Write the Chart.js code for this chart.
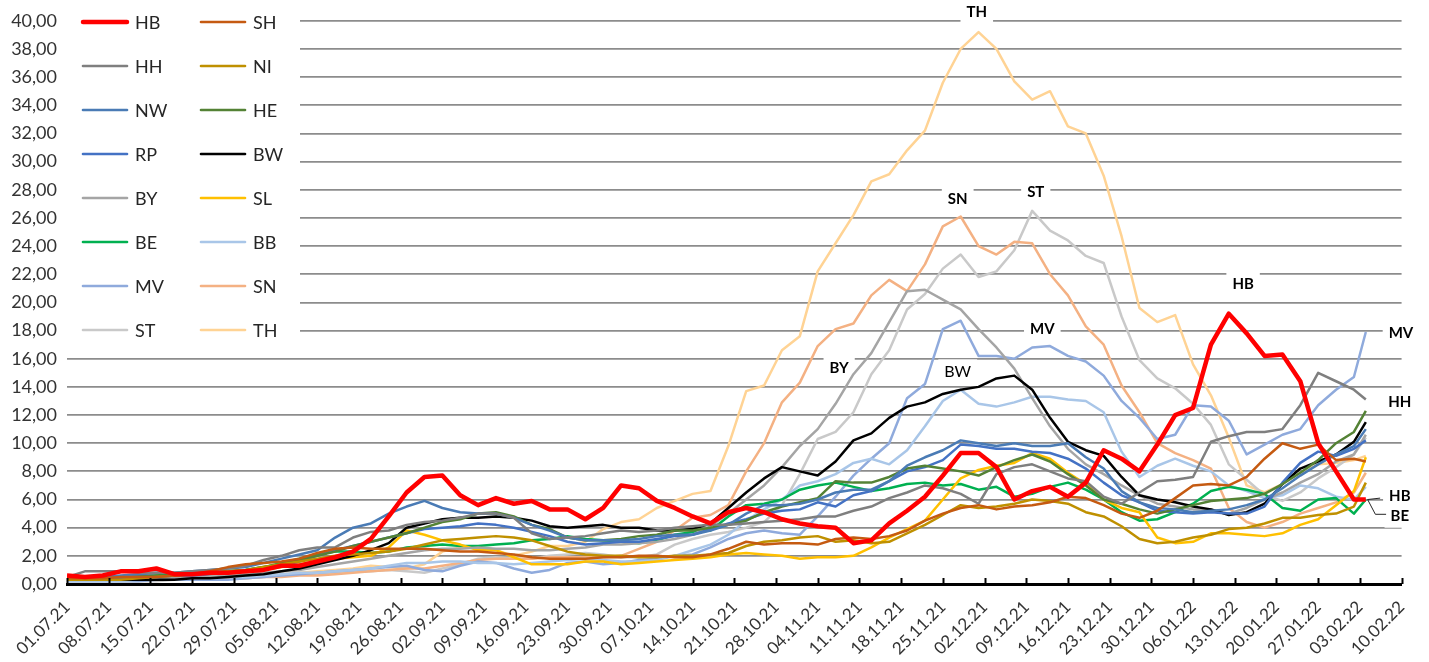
<!DOCTYPE html>
<html>
<head>
<meta charset="utf-8">
<script src="https://cdn.jsdelivr.net/npm/chart.js"></script>
<style>
  html, body { margin: 0; padding: 0; background: #fff; }
  canvas { display: block; }
</style>
</head>
<body>
<canvas id="chart" width="1429" height="662"></canvas>
<script>
// tick labels (one per week)
const tickDates = ['01.07.21', '08.07.21', '15.07.21', '22.07.21', '29.07.21', '05.08.21', '12.08.21', '19.08.21',
  '26.08.21', '02.09.21', '09.09.21', '16.09.21', '23.09.21', '30.09.21', '07.10.21', '14.10.21', '21.10.21',
  '28.10.21', '04.11.21', '11.11.21', '18.11.21', '25.11.21', '02.12.21', '09.12.21', '16.12.21', '23.12.21',
  '30.12.21', '06.01.22', '13.01.22', '20.01.22', '27.01.22', '03.02.22', '10.02.22'];

// days since 01.07.21 of the sampled values
const days = [0, 3, 6, 9, 12, 15, 18, 21, 24, 27, 30, 33, 36, 39, 42, 45, 48, 51, 54, 57, 60, 63, 66, 69, 72, 75,
  78, 81, 84, 87, 90, 93, 96, 99, 102, 105, 108, 111, 114, 117, 120, 123, 126, 129, 132, 135, 138, 141, 144, 147,
  150, 153, 156, 159, 162, 165, 168, 171, 174, 177, 180, 183, 186, 189, 192, 195, 198, 201, 204, 207, 210, 213,
  216, 218];

const HB = [0.6, 0.5, 0.6, 0.9, 0.9, 1.1, 0.7, 0.7, 0.8, 0.8,
  0.9, 1.0, 1.3, 1.3, 1.6, 1.9, 2.3, 3.2, 4.8, 6.5,
  7.6, 7.7, 6.3, 5.6, 6.1, 5.7, 5.9, 5.3, 5.3, 4.6,
  5.4, 7.0, 6.8, 5.9, 5.4, 4.8, 4.3, 5.1, 5.4, 5.1,
  4.6, 4.3, 4.1, 4.0, 2.9, 3.1, 4.3, 5.2, 6.2, 7.7,
  9.3, 9.3, 8.3, 6.0, 6.6, 6.9, 6.2, 7.2, 9.5, 8.9,
  8.0, 9.9, 12.0, 12.5, 17.0, 19.2, 17.8, 16.2, 16.3, 14.4,
  10.0, 8.0, 6.0, 6.0];
const SH = [0.4, 0.4, 0.4, 0.5, 0.5, 0.5, 0.6, 0.7, 0.9, 1.2,
  1.4, 1.5, 1.6, 1.8, 2.2, 2.5, 2.6, 2.5, 2.5, 2.5,
  2.5, 2.4, 2.3, 2.3, 2.2, 2.1, 1.9, 1.8, 1.8, 1.8,
  1.9, 1.9, 2.0, 2.0, 1.9, 1.9, 2.1, 2.5, 3.0, 2.8,
  2.9, 2.9, 2.8, 3.2, 3.3, 3.2, 3.4, 3.8, 4.5, 5.0,
  5.4, 5.6, 5.3, 5.5, 5.6, 5.8, 6.2, 6.1, 5.6, 5.0,
  4.7, 5.2, 6.1, 7.0, 7.1, 7.0, 7.6, 8.9, 10.0, 9.6,
  9.9, 8.8, 8.9, 8.7];
const HH = [0.5, 0.9, 0.9, 0.9, 0.8, 0.8, 0.8, 0.9, 1.0, 1.1,
  1.3, 1.7, 2.0, 2.4, 2.6, 2.6, 3.3, 3.7, 3.8, 4.2,
  4.4, 4.5, 4.7, 5.0, 5.0, 4.7, 3.6, 3.2, 3.3, 3.4,
  3.6, 3.8, 3.7, 3.8, 4.0, 4.1, 4.2, 4.2, 4.3, 4.4,
  4.5, 4.6, 4.8, 4.8, 5.2, 5.5, 6.1, 6.5, 7.0, 6.8,
  6.4, 5.7, 7.8, 8.3, 8.5, 8.0, 7.5, 7.3, 6.2, 5.7,
  6.5, 7.3, 7.4, 7.6, 10.1, 10.5, 10.8, 10.8, 11.0, 12.7,
  15.0, 14.4, 13.8, 13.1];
const NI = [0.3, 0.3, 0.3, 0.3, 0.4, 0.5, 0.6, 0.7, 0.8, 0.9,
  1.0, 1.2, 1.4, 1.6, 1.8, 2.0, 2.1, 2.2, 2.3, 2.5,
  2.8, 3.1, 3.2, 3.3, 3.4, 3.3, 3.1, 2.7, 2.3, 2.1,
  2.0, 2.0, 1.9, 1.9, 2.0, 2.0, 2.1, 2.2, 2.7, 3.0,
  3.1, 3.3, 3.4, 3.0, 3.1, 2.9, 3.0, 3.6, 4.2, 4.9,
  5.6, 5.4, 5.5, 5.7, 6.0, 5.9, 5.7, 5.1, 4.8, 4.1,
  3.2, 2.9, 3.0, 3.3, 3.5, 3.9, 4.0, 4.3, 4.7, 4.7,
  4.9, 5.0, 5.5, 7.2];
const NW = [0.4, 0.4, 0.5, 0.6, 0.7, 0.8, 0.8, 0.9, 1.0, 1.1,
  1.2, 1.5, 1.8, 2.1, 2.4, 3.3, 4.0, 4.3, 5.0, 5.5,
  5.9, 5.4, 5.1, 5.0, 5.0, 4.7, 4.2, 3.8, 3.3, 3.1,
  3.1, 3.1, 3.2, 3.4, 3.5, 3.5, 3.8, 4.2, 5.0, 5.6,
  5.6, 5.7, 6.0, 6.5, 6.7, 6.7, 7.3, 8.4, 9.0, 9.5,
  10.2, 10.0, 9.8, 10.0, 9.8, 9.8, 10.0, 9.0, 8.2, 6.6,
  5.8, 5.4, 5.3, 5.1, 5.2, 5.3, 5.6, 6.0, 6.8, 7.7,
  8.5, 9.2, 9.8, 11.0];
const HE = [0.5, 0.5, 0.5, 0.5, 0.6, 0.6, 0.6, 0.7, 0.8, 0.9,
  1.0, 1.2, 1.4, 1.7, 2.0, 2.3, 2.7, 3.0, 3.3, 3.6,
  4.0, 4.4, 4.6, 5.0, 5.1, 4.8, 4.2, 3.9, 3.3, 3.1,
  3.1, 3.2, 3.4, 3.5, 3.8, 3.8, 4.0, 4.2, 4.5, 5.1,
  5.5, 5.8, 6.1, 7.3, 7.2, 7.2, 7.6, 8.2, 8.4, 8.2,
  8.0, 7.7, 8.3, 8.8, 9.2, 8.7, 7.8, 7.0, 6.0, 5.7,
  5.3, 5.0, 5.3, 5.6, 5.9, 6.0, 6.1, 6.4, 7.1, 7.9,
  8.8, 10.0, 10.8, 12.3];
const RP = [0.3, 0.3, 0.4, 0.4, 0.5, 0.5, 0.6, 0.6, 0.7, 0.8,
  0.9, 1.1, 1.3, 1.6, 2.0, 2.4, 2.7, 3.0, 3.3, 3.6,
  3.9, 4.0, 4.1, 4.3, 4.2, 4.0, 3.7, 3.4, 3.0, 2.8,
  2.9, 3.0, 3.0, 3.2, 3.4, 3.5, 3.9, 4.3, 4.6, 5.0,
  5.2, 5.3, 5.8, 5.5, 6.3, 6.6, 7.3, 8.0, 8.3, 8.8,
  9.9, 9.8, 9.6, 9.6, 9.4, 9.3, 8.9, 8.2, 7.2, 6.3,
  5.8, 5.2, 5.1, 5.0, 5.1, 5.0, 5.0, 5.5, 7.2, 8.6,
  9.4, 9.1, 9.6, 10.2];
const BW = [0.3, 0.3, 0.3, 0.3, 0.3, 0.3, 0.3, 0.4, 0.4, 0.5,
  0.6, 0.7, 0.9, 1.1, 1.4, 1.7, 2.0, 2.4, 2.9, 4.0,
  4.3, 4.6, 4.7, 4.7, 4.8, 4.7, 4.5, 4.1, 4.0, 4.1,
  4.2, 4.0, 4.0, 3.8, 3.8, 3.9, 4.3, 5.4, 6.5, 7.5,
  8.3, 8.0, 7.7, 8.7, 10.2, 10.7, 11.8, 12.6, 12.9, 13.5,
  13.8, 14.0, 14.6, 14.8, 13.8, 11.8, 10.1, 9.5, 9.1, 7.6,
  6.3, 6.0, 5.8, 5.5, 5.3, 4.9, 5.1, 5.7, 7.1, 8.2,
  8.7, 9.2, 10.1, 11.5];
const BY = [0.3, 0.3, 0.3, 0.3, 0.3, 0.4, 0.4, 0.5, 0.5, 0.6,
  0.7, 0.8, 0.9, 1.0, 1.2, 1.4, 1.6, 1.8, 2.0, 2.2,
  2.4, 2.5, 2.5, 2.6, 2.5, 2.5, 2.4, 2.4, 2.5, 2.6,
  2.8, 2.8, 2.9, 3.0, 3.2, 3.5, 4.1, 5.0, 6.0, 7.0,
  8.3, 9.8, 11.0, 12.8, 14.9, 16.4, 18.6, 20.8, 20.9, 20.2,
  19.5, 18.1, 16.8, 15.3, 13.2, 11.2, 9.6, 8.5, 7.8, 7.0,
  6.3, 5.7, 5.5, 5.3, 5.3, 5.0, 5.4, 6.0, 6.5, 7.2,
  7.8, 8.7, 9.2, 10.6];
const SL = [0.5, 0.5, 0.4, 0.4, 0.4, 0.5, 0.5, 0.6, 0.7, 0.8,
  0.9, 1.0, 1.2, 1.4, 1.6, 1.8, 1.9, 2.0, 2.6, 3.8,
  3.5, 3.1, 2.8, 2.4, 2.4, 1.9, 1.4, 1.4, 1.4, 1.6,
  1.6, 1.4, 1.5, 1.6, 1.7, 1.8, 1.9, 2.1, 2.2, 2.1,
  2.0, 1.8, 1.9, 1.9, 2.0, 2.6, 3.3, 3.9, 4.5, 6.0,
  7.5, 8.1, 8.4, 8.6, 9.3, 8.9, 7.9, 7.1, 6.0, 5.4,
  5.1, 3.3, 2.9, 3.0, 3.6, 3.6, 3.5, 3.4, 3.6, 4.2,
  4.6, 5.6, 6.6, 9.0];
const BE = [0.4, 0.4, 0.4, 0.5, 0.5, 0.6, 0.7, 0.8, 0.8, 0.9,
  1.0, 1.2, 1.5, 1.8, 2.1, 2.3, 2.3, 2.2, 2.3, 2.6,
  2.7, 2.8, 2.7, 2.7, 2.8, 2.9, 3.1, 3.2, 3.4, 3.2,
  3.1, 3.0, 2.9, 3.1, 3.5, 3.7, 3.8, 4.8, 5.6, 5.7,
  6.0, 6.7, 7.0, 7.2, 6.9, 6.6, 6.8, 7.1, 7.2, 7.0,
  7.1, 6.7, 6.9, 6.2, 6.4, 6.9, 7.2, 6.7, 6.0, 5.1,
  4.5, 4.6, 5.1, 5.7, 6.6, 6.9, 6.7, 6.4, 5.4, 5.2,
  6.0, 6.1, 5.0, 6.0];
const BB = [0.2, 0.2, 0.2, 0.2, 0.3, 0.3, 0.3, 0.4, 0.4, 0.5,
  0.5, 0.6, 0.7, 0.8, 0.8, 0.9, 1.0, 1.1, 1.3, 1.5,
  1.5, 1.6, 1.6, 1.5, 1.5, 1.4, 1.5, 1.6, 1.7, 1.8,
  1.7, 1.6, 1.6, 1.7, 2.0, 2.4, 2.8, 3.5, 4.5, 5.3,
  6.0, 7.0, 7.3, 7.8, 8.6, 8.9, 8.5, 9.5, 11.2, 13.0,
  13.8, 12.8, 12.6, 12.9, 13.3, 13.3, 13.1, 13.0, 12.2, 9.4,
  7.6, 8.4, 8.9, 8.4, 8.0, 7.0, 6.6, 6.1, 6.3, 7.0,
  6.8, 6.2, 6.0, 6.9];
const MV = [0.2, 0.2, 0.2, 0.2, 0.2, 0.3, 0.3, 0.3, 0.3, 0.3,
  0.4, 0.5, 0.6, 0.7, 0.8, 0.9, 1.0, 1.1, 1.2, 1.3,
  1.0, 0.9, 1.3, 1.6, 1.5, 1.1, 0.8, 1.0, 1.5, 1.6,
  1.4, 1.5, 1.7, 1.8, 2.0, 2.1, 2.6, 3.2, 3.6, 3.8,
  3.6, 3.5, 4.8, 6.2, 7.7, 8.9, 10.0, 13.2, 14.2, 18.1,
  18.7, 16.2, 16.2, 16.0, 16.8, 16.9, 16.2, 15.8, 14.8, 13.0,
  11.8, 10.3, 10.6, 12.7, 12.6, 11.6, 9.2, 9.9, 10.6, 11.0,
  12.7, 13.8, 14.7, 17.9];
const SN = [0.3, 0.3, 0.3, 0.3, 0.3, 0.3, 0.3, 0.3, 0.3, 0.4,
  0.4, 0.5, 0.5, 0.6, 0.6, 0.7, 0.8, 0.9, 1.0, 1.1,
  1.1, 1.3, 1.5, 1.7, 1.8, 1.8, 1.8, 1.9, 1.9, 1.9,
  1.9, 2.0, 2.5, 3.0, 3.8, 4.7, 4.9, 5.6, 8.0, 10.0,
  12.9, 14.3, 16.9, 18.1, 18.5, 20.5, 21.6, 20.8, 22.7, 25.4,
  26.1, 24.0, 23.4, 24.3, 24.2, 22.0, 20.5, 18.3, 17.0, 14.1,
  12.2, 10.0, 9.3, 8.8, 8.2, 5.4, 4.4, 4.0, 4.4, 5.0,
  5.4, 5.8, 6.5, 7.9];
const ST = [0.3, 0.3, 0.3, 0.2, 0.2, 0.2, 0.3, 0.3, 0.3, 0.4,
  0.4, 0.5, 0.6, 0.7, 0.7, 0.8, 0.9, 0.9, 1.0, 0.9,
  0.8, 1.1, 1.4, 1.8, 1.9, 1.8, 1.8, 2.0, 2.1, 2.2,
  2.1, 1.9, 1.9, 2.1, 2.8, 3.2, 3.5, 3.7, 4.0, 4.4,
  5.6, 7.8, 10.3, 10.8, 12.2, 14.9, 16.6, 19.5, 20.6, 22.4,
  23.4, 21.8, 22.2, 23.7, 26.5, 25.1, 24.4, 23.3, 22.8, 19.0,
  15.9, 14.6, 13.9, 12.8, 11.3, 8.5, 7.4, 6.3, 5.9, 6.5,
  7.5, 8.3, 9.2, 10.4];
const TH = [0.4, 0.4, 0.3, 0.4, 0.3, 0.4, 0.4, 0.4, 0.5, 0.5,
  0.6, 0.6, 0.7, 0.8, 0.9, 1.0, 1.1, 1.3, 1.2, 1.1,
  1.4, 2.3, 2.6, 2.6, 2.4, 2.0, 2.3, 2.7, 2.7, 3.0,
  3.9, 4.4, 4.6, 5.4, 5.9, 6.4, 6.6, 9.8, 13.7, 14.1,
  16.6, 17.6, 22.2, 24.2, 26.2, 28.6, 29.1, 30.8, 32.2, 35.6,
  38.0, 39.2, 38.0, 35.7, 34.4, 35.0, 32.5, 32.0, 29.0, 24.7,
  19.6, 18.6, 19.1, 15.6, 13.4, 10.4, 7.0, 6.5, 7.1, 7.9,
  8.5, 8.6, 8.8, 9.1];

const seriesNames = ['HB', 'SH', 'HH', 'NI', 'NW', 'HE', 'RP', 'BW', 'BY', 'SL', 'BE', 'BB', 'MV', 'SN', 'ST', 'TH'];
const seriesValues = { HB, SH, HH, NI, NW, HE, RP, BW, BY, SL, BE, BB, MV, SN, ST, TH };

const seriesColors = {
  HB: '#ff0000', SH: '#c55a11', HH: '#7f7f7f', NI: '#bf9000',
  NW: '#4a7bb5', HE: '#548235', RP: '#4472c4', BW: '#000000',
  BY: '#a5a5a5', SL: '#ffc000', BE: '#00b050', BB: '#a9c6e8',
  MV: '#8faadc', SN: '#f4b183', ST: '#c9c9c9', TH: '#ffd394'
};

// text labels placed in the plot (day, value)
const notes = [
  { text: 'TH', day: 152.7, value: 40.6, bold: true },
  { text: 'SN', day: 149.5, value: 27.3, bold: true },
  { text: 'ST', day: 162.6, value: 27.8, bold: true },
  { text: 'BY', day: 129.6, value: 15.3, bold: true },
  { text: 'BW', day: 149.5, value: 15.1, bold: false },
  { text: 'MV', day: 163.7, value: 18.1, bold: true },
  { text: 'HB', day: 197.4, value: 21.3, bold: true },
  { text: 'MV', day: 223.9, value: 17.8, bold: true },
  { text: 'HH', day: 223.7, value: 12.95, bold: true },
  { text: 'HB', day: 223.7, value: 6.25, bold: true },
  { text: 'BE', day: 223.7, value: 4.85, bold: true }
];
const leaders = [
  [[218.3, 6.0], [220.4, 6.1]],
  [[218.3, 6.0], [219.6, 4.95], [221.4, 4.95]]
];

const FONT = 'Lato';
Chart.defaults.font.family = FONT;

const datasets = seriesNames.map(name => ({
  label: name,
  data: seriesValues[name].map((v, i) => ({ x: days[i], y: v })),
  borderColor: seriesColors[name],
  backgroundColor: seriesColors[name],
  borderWidth: name === 'HB' ? 4.5 : 2.5,
  borderJoinStyle: 'round',
  pointRadius: 0,
  tension: 0,
  fill: false
}));

function noteFont(n) {
  return n.bold ? 'bold 15px ' + FONT : '16px ' + FONT;
}

const notePlugin = {
  id: 'notePlugin',
  beforeDatasetsDraw(chart) {
    const { ctx, scales: { x, y } } = chart;
    ctx.save();
    ctx.fillStyle = '#ffffff';
    notes.forEach(n => {
      ctx.font = noteFont(n);
      const w = ctx.measureText(n.text).width + 12;
      const px = x.getPixelForValue(n.day), py = y.getPixelForValue(n.value);
      ctx.fillRect(px - w / 2, py - 12, w, 24);
    });
    ctx.restore();
  },
  afterDatasetsDraw(chart) {
    const { ctx, scales: { x, y }, chartArea } = chart;
    ctx.save();
    // inward tick marks on the date axis
    ctx.strokeStyle = '#000';
    ctx.lineWidth = 2;
    x.ticks.forEach(t => {
      const px = Math.round(x.getPixelForValue(t.value)) + 0.5;
      ctx.beginPath();
      ctx.moveTo(px, chartArea.bottom);
      ctx.lineTo(px, chartArea.bottom - 6);
      ctx.stroke();
    });
    ctx.lineWidth = 1;
    ctx.strokeStyle = '#262626';
    leaders.forEach(pts => {
      ctx.beginPath();
      pts.forEach((p, i) => {
        const px = x.getPixelForValue(p[0]), py = y.getPixelForValue(p[1]);
        if (i === 0) ctx.moveTo(px, py); else ctx.lineTo(px, py);
      });
      ctx.stroke();
    });
    ctx.fillStyle = '#000';
    ctx.textAlign = 'center';
    ctx.textBaseline = 'middle';
    notes.forEach(n => {
      ctx.font = noteFont(n);
      ctx.fillText(n.text, x.getPixelForValue(n.day), y.getPixelForValue(n.value));
    });
    ctx.restore();
  }
};

const legendPlugin = {
  id: 'legendPlugin',
  afterDraw(chart) {
    const ctx = chart.ctx;
    ctx.save();
    ctx.fillStyle = '#ffffff';
    ctx.fillRect(66, 0, 234, 344);
    ctx.font = '18px ' + FONT;
    ctx.textBaseline = 'middle';
    ctx.textAlign = 'left';
    seriesNames.forEach((name, i) => {
      const lx = i % 2 ? 201 : 83;
      const ly = 22 + Math.floor(i / 2) * 44;
      ctx.strokeStyle = seriesColors[name];
      ctx.lineWidth = name === 'HB' ? 4.5 : 2.6;
      ctx.lineCap = 'round';
      ctx.beginPath();
      ctx.moveTo(lx, ly);
      ctx.lineTo(lx + 44, ly);
      ctx.stroke();
      ctx.fillStyle = '#262626';
      ctx.fillText(name, lx + 52, ly + 1);
    });
    ctx.restore();
  }
};

const config = {
  type: 'line',
  data: { datasets: datasets },
  options: {
    responsive: false,
    animation: false,
    devicePixelRatio: 1,
    layout: { padding: { top: 17, right: 25, left: 0, bottom: 0 } },
    plugins: {
      legend: { display: false },
      tooltip: { enabled: false }
    },
    scales: {
      x: {
        type: 'linear',
        min: 0,
        max: 224,
        afterFit: s => { s.height = 78; },
        afterBuildTicks: s => { s.ticks = tickDates.map((_, i) => ({ value: i * 7 })); },
        ticks: {
          autoSkip: false,
          minRotation: 45,
          maxRotation: 45,
          padding: 13,
          color: '#333333',
          font: { size: 17 },
          callback: v => tickDates[Math.round(v / 7)]
        },
        grid: { display: true, drawOnChartArea: false, drawTicks: false },
        border: { display: true, color: '#000000', width: 3 }
      },
      y: {
        min: 0,
        max: 40,
        afterFit: s => { s.width = 67; },
        ticks: {
          stepSize: 2,
          padding: 10,
          color: '#333333',
          font: { size: 18 },
          callback: v => v.toFixed(2).replace('.', ',')
        },
        grid: {
          drawTicks: false,
          lineWidth: 1.8,
          color: c => (c.tick && c.tick.value === 0) ? 'rgba(0,0,0,0)' : '#8c8c8c'
        },
        border: { display: false }
      }
    }
  },
  plugins: [notePlugin, legendPlugin]
};

var chart = new Chart(document.getElementById('chart'), config);
</script>
</body>
</html>
